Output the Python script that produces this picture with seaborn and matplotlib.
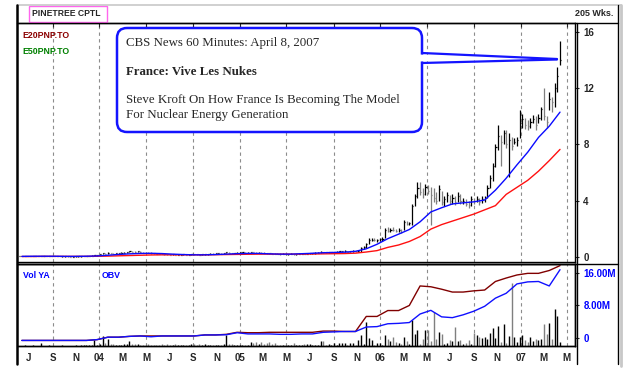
import numpy as np
import pandas as pd
import matplotlib
matplotlib.use("Agg")
import matplotlib.pyplot as plt
from matplotlib.lines import Line2D
from matplotlib.patches import FancyBboxPatch, Polygon, Rectangle
from matplotlib.transforms import IdentityTransform
import seaborn as sns

sns.set_style("white")

# ---- weekly price bars (PNP.TO, Jun 2003 - Apr 2007) ----
weeks = pd.date_range("2003-06-06", "2007-04-13", freq="W-FRI")

high = [
    0.08, 0.07, 0.08, 0.09, 0.08, 0.07, 0.08, 0.08, 0.07, 0.08,
    0.07, 0.08, 0.10, 0.08, 0.07, 0.07, 0.06, 0.06, 0.06, 0.05,
    0.05, 0.06, 0.05, 0.07, 0.08, 0.09, 0.10, 0.11, 0.13, 0.15,
    0.22, 0.30, 0.28, 0.36, 0.30, 0.28, 0.27, 0.30, 0.33, 0.35,
    0.36, 0.45, 0.42, 0.40, 0.44, 0.40, 0.38, 0.36, 0.34, 0.32,
    0.30, 0.28, 0.27, 0.26, 0.24, 0.23, 0.22, 0.22, 0.21, 0.21,
    0.20, 0.21, 0.20, 0.19, 0.22, 0.24, 0.22, 0.21, 0.20, 0.22,
    0.24, 0.26, 0.25, 0.27, 0.30, 0.28, 0.30, 0.38, 0.33, 0.31,
    0.31, 0.33, 0.34, 0.36, 0.35, 0.34, 0.36, 0.38, 0.35, 0.34,
    0.34, 0.33, 0.31, 0.30, 0.28, 0.27, 0.26, 0.25, 0.26, 0.25,
    0.24, 0.25, 0.24, 0.23, 0.25, 0.26, 0.27, 0.26, 0.28, 0.30,
    0.32, 0.33, 0.40, 0.38, 0.36, 0.35, 0.37, 0.38, 0.40, 0.42, 0.44,
    0.46, 0.44, 0.45, 0.47, 0.45, 0.48, 0.70, 0.75, 1.00, 1.35,
    1.32, 1.36, 1.30, 1.38, 1.40, 2.05, 2.10, 2.05, 2.12, 2.00,
    2.05, 2.00, 2.60, 2.55, 2.50, 3.75, 4.50, 5.30, 5.35, 4.90,
    5.20, 5.10, 5.00, 4.90, 4.60, 5.10, 4.70, 4.30, 4.60, 4.40,
    4.50, 4.30, 4.60, 4.50, 4.20, 4.10, 4.00, 4.30, 4.20, 4.30,
    4.20, 4.30, 4.30, 5.10, 5.80, 6.70, 8.00, 9.40, 8.70, 9.00,
    9.00, 8.80, 8.55, 8.45, 8.50, 10.45, 10.20, 9.90, 9.75, 9.90,
    10.10, 10.00, 10.20, 10.70, 12.00, 10.00, 11.70, 11.40, 12.40, 13.50, 15.35,
]
low = [
    0.04, 0.04, 0.05, 0.05, 0.04, 0.04, 0.05, 0.04, 0.04, 0.05,
    0.04, 0.05, 0.05, 0.05, 0.04, 0.04, 0.03, 0.03, 0.03, 0.02,
    0.01, 0.02, 0.02, 0.03, 0.05, 0.06, 0.07, 0.08, 0.09, 0.10,
    0.13, 0.20, 0.21, 0.24, 0.22, 0.21, 0.20, 0.22, 0.25, 0.26,
    0.28, 0.32, 0.33, 0.30, 0.34, 0.30, 0.29, 0.27, 0.25, 0.24,
    0.22, 0.20, 0.19, 0.18, 0.17, 0.16, 0.15, 0.15, 0.14, 0.14,
    0.14, 0.15, 0.14, 0.13, 0.15, 0.16, 0.15, 0.14, 0.14, 0.15,
    0.17, 0.19, 0.18, 0.20, 0.22, 0.21, 0.23, 0.26, 0.25, 0.24,
    0.24, 0.25, 0.27, 0.28, 0.27, 0.26, 0.28, 0.29, 0.27, 0.26,
    0.26, 0.25, 0.23, 0.22, 0.20, 0.19, 0.18, 0.17, 0.18, 0.17,
    0.17, 0.18, 0.17, 0.17, 0.18, 0.19, 0.20, 0.19, 0.21, 0.22,
    0.24, 0.25, 0.28, 0.29, 0.28, 0.27, 0.28, 0.29, 0.30, 0.31, 0.32,
    0.33, 0.32, 0.34, 0.35, 0.34, 0.36, 0.38, 0.55, 0.65, 0.95,
    1.10, 1.12, 1.08, 1.14, 1.16, 1.35, 1.80, 1.75, 1.82, 1.76,
    1.78, 1.70, 1.90, 2.25, 2.25, 2.30, 3.60, 4.20, 4.40, 4.20,
    4.40, 4.50, 2.30, 3.90, 3.80, 4.00, 3.70, 3.60, 3.90, 3.80,
    3.80, 3.70, 3.90, 3.80, 3.80, 3.60, 3.50, 3.60, 3.80, 3.90,
    3.70, 3.85, 3.90, 4.20, 4.90, 5.40, 6.40, 7.60, 6.50, 8.00,
    7.75, 5.70, 7.60, 8.00, 7.90, 8.45, 9.20, 9.10, 9.00, 9.20,
    9.50, 9.00, 9.50, 9.75, 9.75, 9.20, 10.45, 10.30, 10.70, 11.70, 13.65,
]
close = [
    0.06, 0.05, 0.07, 0.06, 0.05, 0.06, 0.06, 0.05, 0.06, 0.06,
    0.05, 0.07, 0.06, 0.05, 0.05, 0.04, 0.04, 0.05, 0.04, 0.03,
    0.03, 0.04, 0.04, 0.06, 0.07, 0.08, 0.09, 0.10, 0.12, 0.13,
    0.20, 0.26, 0.24, 0.30, 0.25, 0.24, 0.25, 0.28, 0.30, 0.31,
    0.33, 0.40, 0.36, 0.34, 0.40, 0.33, 0.31, 0.29, 0.28, 0.27,
    0.25, 0.23, 0.22, 0.20, 0.19, 0.18, 0.17, 0.18, 0.16, 0.17,
    0.17, 0.18, 0.16, 0.17, 0.20, 0.19, 0.18, 0.17, 0.18, 0.20,
    0.22, 0.23, 0.21, 0.25, 0.27, 0.24, 0.28, 0.33, 0.29, 0.28,
    0.29, 0.31, 0.32, 0.33, 0.30, 0.31, 0.34, 0.33, 0.30, 0.31,
    0.30, 0.28, 0.26, 0.25, 0.23, 0.22, 0.21, 0.20, 0.23, 0.21,
    0.21, 0.22, 0.20, 0.21, 0.23, 0.24, 0.23, 0.24, 0.26, 0.28,
    0.29, 0.31, 0.36, 0.33, 0.32, 0.33, 0.35, 0.36, 0.38, 0.39, 0.40,
    0.40, 0.38, 0.41, 0.43, 0.40, 0.45, 0.65, 0.70, 0.95, 1.20,
    1.22, 1.18, 1.20, 1.28, 1.30, 1.92, 1.88, 1.95, 1.90, 1.85,
    1.95, 1.80, 2.50, 2.35, 2.40, 3.60, 4.30, 4.90, 4.60, 4.50,
    5.00, 4.70, 4.40, 4.20, 4.00, 4.80, 3.90, 4.10, 4.40, 4.00,
    4.20, 3.90, 4.30, 4.00, 4.00, 3.80, 3.70, 4.10, 4.00, 4.10,
    3.90, 4.10, 4.20, 4.90, 5.60, 6.50, 7.80, 8.60, 8.20, 8.80,
    8.00, 8.30, 7.90, 8.20, 8.30, 9.50, 9.80, 9.40, 9.30, 9.60,
    9.80, 9.40, 9.90, 10.50, 10.00, 9.60, 11.20, 11.00, 12.00, 12.90, 14.00,
]
# weekly volume (millions)
volume = [
    0.02, 0.02, 0.03, 0.02, 0.02, 0.03, 0.02, 0.02, 0.13, 0.02,
    0.02, 0.03, 0.02, 0.02, 0.02, 0.02, 0.03, 0.02, 0.02, 0.02,
    0.02, 0.03, 0.02, 0.03, 0.04, 0.03, 0.05, 0.04, 0.30, 0.06,
    0.08, 0.50, 0.15, 0.35, 0.10, 0.10, 0.05, 0.06, 0.05, 0.10,
    0.10, 0.25, 0.10, 0.10, 0.10, 0.05, 0.04, 0.05, 0.10, 0.04,
    0.03, 0.04, 0.03, 0.08, 0.05, 0.08, 0.06, 0.05, 0.08, 0.04,
    0.03, 0.04, 0.03, 0.03, 0.10, 0.08, 0.05, 0.10, 0.06, 0.08,
    0.05, 0.04, 0.05, 0.04, 0.05, 0.04, 0.08, 0.55, 0.10, 0.10,
    0.04, 0.05, 0.05, 0.04, 0.06, 0.05, 0.20, 0.15, 0.20, 0.12,
    0.20, 0.10, 0.15, 0.20, 0.08, 0.15, 0.05, 0.04, 0.05, 0.04,
    0.05, 0.04, 0.15, 0.04, 0.05, 0.03, 0.10, 0.10, 0.10, 0.04,
    0.04, 0.05, 0.25, 0.25, 0.05, 0.10, 0.06, 0.15, 0.04, 0.15,
    0.15, 0.15, 0.05, 0.15, 0.15, 0.05, 0.30, 0.55, 0.10, 1.20,
    0.40, 0.30, 0.05, 0.15, 0.15, 0.05, 0.55, 0.35, 0.25, 0.45,
    0.20, 0.15, 0.10, 0.45, 0.25, 0.10, 1.30, 0.60, 0.80, 0.10,
    0.35, 0.80, 0.80, 0.25, 1.70, 0.35, 0.70, 0.60, 0.10, 0.15,
    0.30, 0.25, 0.95, 0.25, 0.30, 0.10, 0.15, 0.30, 0.10, 0.65,
    0.55, 0.45, 0.40, 0.45, 0.35, 0.65, 0.90, 0.40, 1.00, 0.20,
    1.10, 0.15, 0.50, 3.15, 0.45, 0.20, 0.45, 0.55, 0.30, 0.20,
    0.45, 0.25, 0.35, 0.30, 0.35, 1.10, 0.60, 1.15, 0.35, 1.85,
    1.50, 0.20,
]

# ---- indicator lines, one reading every 4 weeks ----
line_dates = weeks[1::4]
e20 = [0.04, 0.05, 0.05, 0.05, 0.04, 0.04, 0.05, 0.07,
       0.12, 0.18, 0.22, 0.25, 0.26, 0.24, 0.20, 0.17, 0.15, 0.15,
       0.17, 0.20, 0.23, 0.25, 0.25, 0.22, 0.20, 0.20, 0.23, 0.26, 0.30, 0.32,
       0.34, 0.40, 0.58, 0.90, 1.30, 1.62, 1.95, 2.50, 3.20, 3.50, 3.77,
       3.85, 3.92, 4.05, 4.75, 5.60, 6.55, 7.45, 8.50, 9.30, 10.30]
e50 = [0.03, 0.03, 0.04, 0.04, 0.04, 0.04, 0.04, 0.05,
       0.06, 0.08, 0.10, 0.12, 0.14, 0.15, 0.15, 0.15, 0.15, 0.15,
       0.16, 0.17, 0.18, 0.19, 0.20, 0.20, 0.20, 0.20, 0.20, 0.21, 0.22, 0.23,
       0.24, 0.27, 0.35, 0.45, 0.68, 0.85, 1.10, 1.45, 1.98, 2.30, 2.55,
       2.80, 3.05, 3.35, 3.65, 4.45, 4.95, 5.45, 6.10, 6.85, 7.65]
obv = [-0.6, -0.6, -0.6, -0.6, -0.6, -0.6, -0.6, -0.4,
       0.2, 0.2, 0.4, 0.5, 0.3, 0.5, 0.5, 0.5, 0.5, 0.75, 0.75, 0.8,
       1.3, 1.0, 1.0, 1.0, 0.9, 0.9, 1.0, 1.0, 1.4, 1.5, 1.6, 1.6,
       2.7, 2.8, 3.5, 3.6, 3.8, 5.9, 6.8, 5.2, 5.0, 5.7, 6.6, 7.8,
       9.8, 11.0, 13.3, 13.8, 13.9, 12.8, 16.8]
vol_ya = [-0.6, -0.6, -0.6, -0.6, -0.6, -0.6, -0.6, -0.4,
          0.2, 0.2, 0.4, 0.5, 0.5, 0.5, 0.5, 0.5, 0.5, 0.75, 0.75, 0.9,
          1.4, 1.3, 1.3, 1.4, 1.4, 1.4, 1.4, 1.4, 1.7, 1.7, 1.6, 1.6,
          5.3, 5.3, 6.75, 6.75, 8.0, 12.8, 12.6, 12.0, 11.3, 11.3, 11.6, 11.8,
          13.9, 14.75, 15.5, 15.9, 15.9, 16.6, 17.8]

month_ticks = pd.date_range("2003-07-01", "2007-05-01", freq="2MS")
month_labels = ["J", "S", "N", "04", "M", "M", "J", "S", "N", "05", "M", "M",
                "J", "S", "N", "06", "M", "M", "J", "S", "N", "07", "M", "M"]
grid_dates = pd.date_range("2003-09-01", "2007-05-01", freq="4MS")
price_ticks = [0, 4, 8, 12, 16]
obv_ticks = [0, 8, 16]
obv_labels = ["0", "8.00M", "16.00M"]

# ---- layout in image pixels ----
W, H = 644, 384
fig = plt.figure(figsize=(W / 100, H / 100), dpi=100)
fig.patch.set_facecolor("white")


def rect(x0, y0, x1, y1):
    return [x0 / W, 1 - y1 / H, (x1 - x0) / W, (y1 - y0) / H]


def px(x, y):
    return (x / W, 1 - y / H)


BOLD = dict(family="Liberation Sans", weight="bold")
xmin, xmax = pd.Timestamp("2003-06-03"), pd.Timestamp("2007-05-22")

ax = fig.add_axes(rect(18, 23, 575, 262))
axv = fig.add_axes(rect(18, 264, 575, 346))
axl = axv.twinx()

for a in (ax, axv):
    for d in grid_dates:
        a.axvline(d, color="#8c8c8c", lw=0.8, ls=(0, (3, 3)), zorder=0)

# price bars
closes = np.array(close)
up = np.r_[True, closes[1:] >= closes[:-1]]
bar_cols = np.where(up, "black", "#7f7f7f")
ax.vlines(weeks.values, low, high, colors=bar_cols, lw=0.9, zorder=3)
ax.hlines(close, weeks.values, (weeks + pd.Timedelta(days=3)).values,
          colors=bar_cols, lw=0.9, zorder=3)
sns.lineplot(x=line_dates, y=e50, ax=ax, color="#ff1010", lw=1.0,
             estimator=None, zorder=4)
sns.lineplot(x=line_dates, y=e20, ax=ax, color="#0a0aff", lw=1.0,
             estimator=None, zorder=4)
ax.set_xlim(xmin, xmax)
ax.set_ylim(-0.36, 16.64)
ax.set_xlabel("")
ax.set_ylabel("")
ax.yaxis.tick_right()
ax.set_yticks(price_ticks)
ax.set_yticklabels([str(v) for v in price_ticks], fontsize=7, **BOLD)
ax.tick_params(axis="y", direction="out", length=3, width=0.8, pad=3)
ax.set_xticks(grid_dates)
ax.tick_params(axis="x", bottom=False, labelbottom=False, top=True,
               direction="in", length=3, width=0.8)
for s in ax.spines.values():
    s.set_color("black")
    s.set_linewidth(1.0)
ax.spines["left"].set_visible(False)

# volume bars and OBV lines
axv.vlines(weeks.values, 0, volume, colors=bar_cols, lw=1.0, zorder=2)
axv.set_ylim(0, 4.1)
axv.set_yticks([])
sns.lineplot(x=line_dates, y=vol_ya, ax=axl, color="#800000", lw=1.0,
             estimator=None)
sns.lineplot(x=line_dates, y=obv, ax=axl, color="#1010ff", lw=1.0,
             estimator=None)
axl.set_ylim(-1.97, 18.2)
axl.set_yticks(obv_ticks)
axl.set_yticklabels(obv_labels, fontsize=7, color="#0000ff", **BOLD)
axl.tick_params(axis="y", direction="out", length=3, width=0.8, pad=3)
axl.set_ylabel("")
axv.set_xlim(xmin, xmax)
axv.set_xticks(month_ticks)
axv.set_xticklabels(month_labels, fontsize=7, **BOLD)
axv.set_xticks(pd.date_range("2003-07-01", "2007-05-01", freq="MS"), minor=True)
axv.tick_params(axis="x", which="both", direction="out", length=3, width=0.8, pad=2)
axv.set_xlabel("")
for a in (axv, axl):
    for s in a.spines.values():
        s.set_color("black")
        s.set_linewidth(1.0)
    a.spines["left"].set_visible(False)

# ---- frame ----
def fline(x0, y0, x1, y1, **kw):
    fig.add_artist(Line2D([x0 / W, x1 / W], [1 - y0 / H, 1 - y1 / H], **kw))


fline(17, 5, 621, 5, color="#c8c8c8", lw=1.2)
fline(17, 5, 17, 364, color="black", lw=1.8)
fline(618, 5, 618, 364, color="black", lw=1.0)
fline(621, 5, 621, 366, color="#c8c8c8", lw=2.0)
fline(17, 22.5, 618, 22.5, color="black", lw=1.0)
fline(17, 264, 618, 264, color="black", lw=1.0)
fline(577, 23, 577, 364, color="black", lw=1.0)

fig.add_artist(Rectangle(px(29, 22), 78 / W, 16 / H, fill=False,
                         edgecolor="#ff66ee", lw=1.0, transform=fig.transFigure))
fig.text(*px(32, 14), "PINETREE CPTL", fontsize=6.2, va="center", **BOLD)
fig.text(*px(613, 14), "205 Wks.", fontsize=6.5, va="center", ha="right", **BOLD)
fig.text(*px(22, 35), "E20PNP.TO", fontsize=6.3, va="center", color="#8b0000", **BOLD)
fig.text(*px(22, 52), "E50PNP.TO", fontsize=6.3, va="center", color="#008000", **BOLD)
fig.text(*px(23, 276), "Vol YA", fontsize=6.3, va="center", color="#0000ff", **BOLD)
fig.text(*px(102, 276), "OBV", fontsize=6.3, va="center", color="#0000ff", **BOLD)

# ---- callout ----
idt = IdentityTransform()
fig.add_artist(FancyBboxPatch((117, H - 132), 305, 104,
                              boxstyle="round,pad=0,rounding_size=10",
                              facecolor="white", edgecolor="#1414ff", lw=1.8,
                              transform=idt, zorder=10))
fig.add_artist(Polygon([(419, H - 54.5), (557, H - 59), (419, H - 61.5)],
                       closed=True, facecolor="white", edgecolor="none",
                       transform=idt, zorder=11))
fig.add_artist(Line2D([422, 557], [H - 53, H - 59], color="#1414ff", lw=1.6,
                      transform=idt, zorder=12))
fig.add_artist(Line2D([422, 557], [H - 63, H - 59.5], color="#1414ff", lw=1.6,
                      transform=idt, zorder=12))
SERIF = dict(family="Liberation Serif", fontsize=9.25, va="center", zorder=13)
fig.text(*px(126, 43), "CBS News 60 Minutes: April 8, 2007", **SERIF)
fig.text(*px(126, 72), "France: Vive Les Nukes", weight="bold", **SERIF)
fig.text(*px(126, 100), "Steve Kroft On How France Is Becoming The Model", **SERIF)
fig.text(*px(126, 115), "For Nuclear Energy Generation", **SERIF)

fig.savefig("out.png", dpi=100, facecolor="white")
